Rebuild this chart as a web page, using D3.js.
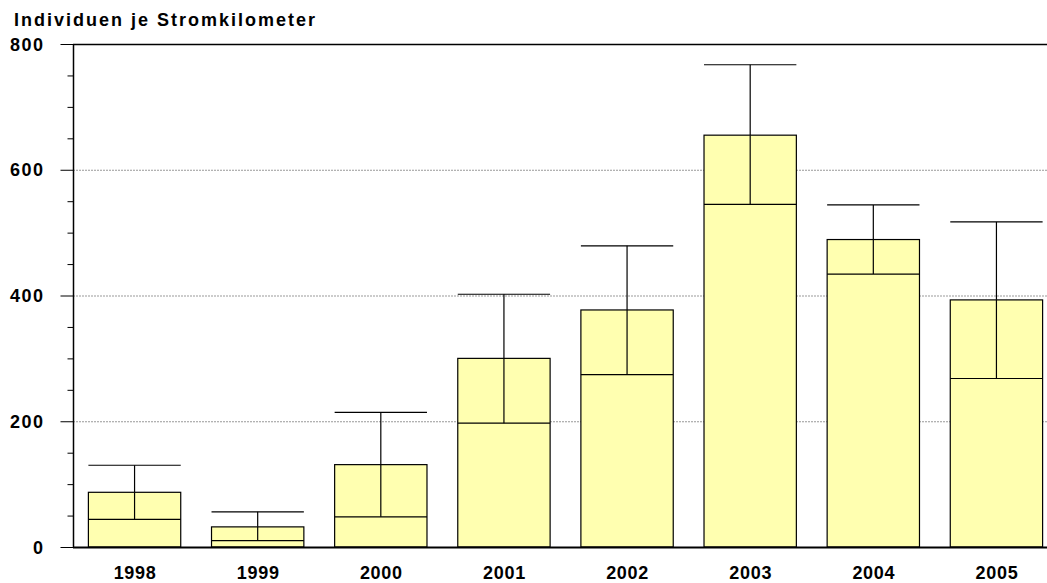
<!DOCTYPE html>
<html>
<head>
<meta charset="utf-8">
<script src="https://d3js.org/d3.v7.min.js"></script>
<style>
    html, body { margin: 0; padding: 0; background: #fff; }
    svg text { font-family: "Liberation Sans", Arial, sans-serif; font-weight: bold; fill: #000; }
</style>
</head>
<body>
<script>
    // data
    var years = ["1998", "1999", "2000", "2001", "2002", "2003", "2004", "2005"];
    var means = [87, 32, 131, 300, 377, 655, 489, 393];
    var lowers = [44, 10, 48, 197, 274, 545, 434, 268];
    var uppers = [130, 56, 214, 402, 479, 767, 544, 517];
    var yTicks = [0, 200, 400, 600, 800];

    var width = 1047, height = 583;
    var plotLeft = 73, plotTop = 44, plotBottom = 547, plotRight = 1058;

    var svg = d3.select("body").append("svg")
        .attr("width", width)
        .attr("height", height);

    var x = d3.scaleBand()
        .domain(years)
        .range([plotLeft, plotRight])
        .paddingInner(0.25)
        .paddingOuter(0.125);

    var y = d3.scaleLinear()
        .domain([0, 800])
        .range([plotBottom, plotTop]);

    // gridlines
    svg.append("g").selectAll("line")
        .data([200, 400, 600])
        .enter().append("line")
        .attr("x1", plotLeft).attr("x2", width)
        .attr("y1", function (d) { return y(d) + 0.5; })
        .attr("y2", function (d) { return y(d) + 0.5; })
        .attr("stroke", "#999")
        .attr("stroke-dasharray", "2,1");

    // top frame line
    svg.append("line")
        .attr("x1", plotLeft).attr("x2", width)
        .attr("y1", y(800) + 0.5).attr("y2", y(800) + 0.5)
        .attr("stroke", "#000").attr("stroke-width", 1.5);

    // y axis with minor ticks
    var yAxis = svg.append("g").attr("transform", "translate(" + (plotLeft + 0.5) + ",0)");
    yAxis.selectAll("line.tick")
        .data(d3.range(0, 801, 50))
        .enter().append("line")
        .attr("x1", function (d) { return d % 200 == 0 ? -13 : -6; })
        .attr("x2", 0)
        .attr("y1", function (d) { return y(d) + 0.5; })
        .attr("y2", function (d) { return y(d) + 0.5; })
        .attr("stroke", "#000");
    yAxis.append("line")
        .attr("y1", y(800)).attr("y2", y(0))
        .attr("stroke", "#000").attr("stroke-width", 1.5);
    yAxis.selectAll("text")
        .data(yTicks)
        .enter().append("text")
        .attr("x", -29)
        .attr("y", function (d) { return y(d) + 6.5; })
        .attr("text-anchor", "end")
        .style("font-size", "18px")
        .style("letter-spacing", "1.5px")
        .text(function (d) { return d; });

    // bars
    var g = svg.append("g").selectAll("g")
        .data(years)
        .enter().append("g");

    g.append("line")
        .attr("x1", function (d) { return x(d) + x.bandwidth() / 2; })
        .attr("x2", function (d) { return x(d) + x.bandwidth() / 2; })
        .attr("y1", function (d, i) { return y(means[i]); })
        .attr("y2", function (d, i) { return y(uppers[i]); })
        .attr("stroke", "#000").attr("stroke-width", 1.2);

    g.append("line")
        .attr("x1", function (d) { return x(d); })
        .attr("x2", function (d) { return x(d) + x.bandwidth(); })
        .attr("y1", function (d, i) { return y(uppers[i]); })
        .attr("y2", function (d, i) { return y(uppers[i]); })
        .attr("stroke", "#000").attr("stroke-width", 1.2);

    g.append("rect")
        .attr("x", function (d) { return x(d); })
        .attr("y", function (d, i) { return y(means[i]); })
        .attr("width", x.bandwidth())
        .attr("height", function (d, i) { return y(0) - y(means[i]); })
        .attr("fill", "#ffffb0")
        .attr("stroke", "#000").attr("stroke-width", 1.2);

    g.append("line")
        .attr("x1", function (d) { return x(d) + x.bandwidth() / 2; })
        .attr("x2", function (d) { return x(d) + x.bandwidth() / 2; })
        .attr("y1", function (d, i) { return y(lowers[i]); })
        .attr("y2", function (d, i) { return y(means[i]); })
        .attr("stroke", "#000").attr("stroke-width", 1.2);

    g.append("line")
        .attr("x1", function (d) { return x(d); })
        .attr("x2", function (d) { return x(d) + x.bandwidth(); })
        .attr("y1", function (d, i) { return y(lowers[i]); })
        .attr("y2", function (d, i) { return y(lowers[i]); })
        .attr("stroke", "#000").attr("stroke-width", 1.2);

    // x axis baseline
    svg.append("line")
        .attr("x1", plotLeft).attr("x2", width)
        .attr("y1", y(0) + 0.5).attr("y2", y(0) + 0.5)
        .attr("stroke", "#000").attr("stroke-width", 2);

    svg.append("g").selectAll("text")
        .data(years)
        .enter().append("text")
        .attr("x", function (d) { return x(d) + x.bandwidth() / 2 + 0.5; })
        .attr("y", 579)
        .attr("text-anchor", "middle")
        .style("font-size", "18px")
        .style("letter-spacing", "0.7px")
        .text(function (d) { return d; });

    svg.append("text")
        .attr("x", 14)
        .attr("y", 26)
        .style("font-size", "18px")
        .style("letter-spacing", "2px")
        .text("Individuen je Stromkilometer");
</script>
</body>
</html>
